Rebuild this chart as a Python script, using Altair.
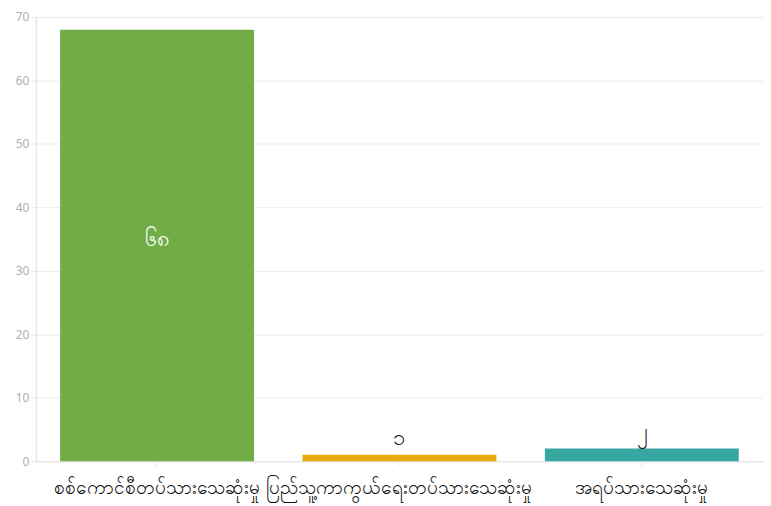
import altair as alt
import pandas as pd

categories = ["စစ်ကောင်စီတပ်သားသေဆုံးမှု", "ပြည်သူ့ကာကွယ်ရေးတပ်သားသေဆုံးမှု", "အရပ်သားသေဆုံးမှု"]
values = [68, 1, 2]
value_labels = ["၆၈", "၁", "၂"]
colors = ["#70ad47", "#e9aa0c", "#38a7a1"]

df = pd.DataFrame({"cat": categories, "val": values, "lab": value_labels, "col": colors})
df["half"] = df["val"] / 2

x = alt.X("cat:N", sort=categories, title=None,
          scale=alt.Scale(paddingInner=0.2, paddingOuter=0.1),
          axis=alt.Axis(labelAngle=0, labelFontSize=19, labelColor="#111111", labelLimit=0,
                        labelFont="Noto Sans", domainColor="#e6e6e6", tickColor="#e6e6e6",
                        labelPadding=12, grid=False))
y = alt.Y("val:Q", title=None,
          scale=alt.Scale(domain=[0, 70]),
          axis=alt.Axis(values=[0, 10, 20, 30, 40, 50, 60, 70], labelFontSize=12,
                        labelColor="#b0b0b0", domainColor="#e6e6e6", tickColor="#e6e6e6",
                        gridColor="#ececec", labelFont="Noto Sans", minExtent=28))

base = alt.Chart(df)
bars = base.mark_bar().encode(x=x, y=y, color=alt.Color("col:N", scale=None))

inside = base.transform_filter(alt.datum.val > 10).mark_text(
    color="white", fontSize=22, font="Noto Sans", baseline="middle", dy=-6
).encode(x=alt.X("cat:N", sort=categories), y=alt.Y("half:Q"), text="lab:N")

above = base.transform_filter(alt.datum.val <= 10).mark_text(
    color="#222222", fontSize=22, font="Noto Sans", baseline="bottom", dy=-5
).encode(x=alt.X("cat:N", sort=categories), y=alt.Y("val:Q"), text="lab:N")

chart = alt.layer(bars, inside, above).properties(
    width=730, height=446,
    padding={"top": 2, "left": 0, "right": 0, "bottom": 10}
).configure_view(stroke=None).configure(background="white")

chart.save("out.html", embed_options={"renderer": "svg", "actions": False})
